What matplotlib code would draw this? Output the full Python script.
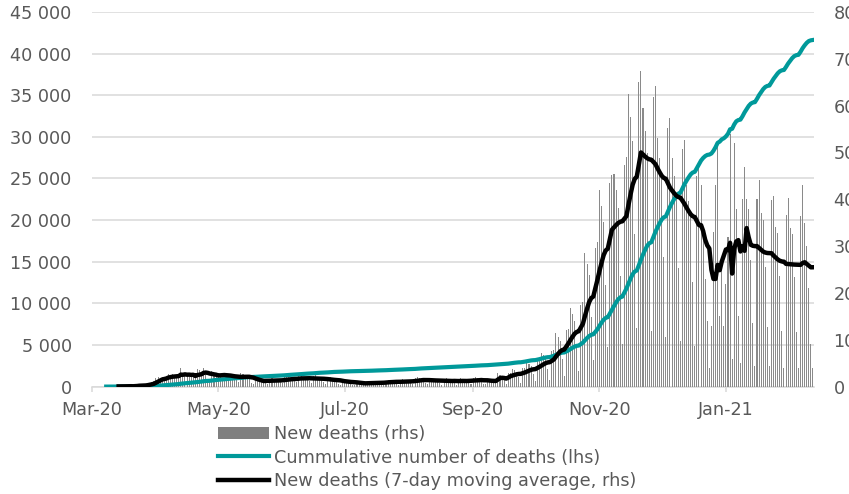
import numpy as np
import pandas as pd
import matplotlib
matplotlib.use("Agg")
import matplotlib.pyplot as plt
import matplotlib.dates as mdates
from matplotlib.patches import Patch
from matplotlib.lines import Line2D
from matplotlib.ticker import FuncFormatter, MultipleLocator

# daily new deaths (first value = 8 Mar 2020)
mar_20 = [0, 0, 0, 0, 1, 1, 1, 0, 1, 0, 1, 1, 2, 0, 2, 3, 4, 2, 3, 3, 4, 8, 10, 12]
apr_20 = [18, 20, 17, 21, 15, 18, 26, 24, 27, 20, 24, 18, 40, 24, 30, 22, 21, 20,
          20, 22, 38, 35, 30, 40, 25, 15, 12, 33, 28, 25]
may_20 = [30, 25, 18, 14, 30, 26, 22, 24, 20, 15, 10, 28, 27, 24, 23, 20, 8, 5, 15,
          16, 14, 14, 12, 9, 6, 16, 18, 15, 15, 12, 10]
jun_20 = [8, 20, 22, 20, 17, 15, 12, 9, 24, 25, 21, 19, 16, 11, 8, 22, 24, 21, 18,
          15, 9, 6, 19, 20, 17, 15, 12, 6, 4, 13]
jul_20 = [14, 13, 11, 9, 4, 3, 9, 10, 9, 8, 6, 5, 3, 10, 12, 11, 9, 6, 6, 4, 13, 15,
          13, 11, 8, 7, 4, 14, 16, 15, 12]
aug_20 = [9, 8, 5, 18, 21, 18, 16, 12, 8, 5, 17, 19, 17, 14, 11, 7, 4, 16, 18, 16,
          13, 10, 8, 3, 15, 19, 17, 12, 10, 9, 5]
sep_20 = [18, 21, 18, 15, 12, 6, 5, 17, 17, 15, 14, 10, 28, 25, 23, 14, 6, 29, 30,
          38, 35, 31, 20, 8, 39, 40, 52, 48, 44, 27]
oct_20 = [11, 55, 57, 72, 67, 61, 38, 15, 75, 78, 115, 106, 97, 60, 23, 120, 124,
          168, 154, 141, 87, 34, 174, 181, 285, 262, 239, 148, 57, 296, 308]
nov_20 = [419, 385, 352, 218, 84, 435, 452, 455, 419, 382, 237, 91, 473, 491, 625,
          575, 525, 325, 125, 650, 675, 594, 546, 499, 309, 119, 618, 641, 531, 489]
dec_20 = [446, 276, 106, 553, 574, 488, 449, 410, 254, 98, 507, 527, 431, 397, 362,
          224, 86, 449, 466, 430, 310, 230, 140, 40, 130, 330, 430, 520, 150, 270, 130]
jan_21 = [220, 320, 540, 60, 520, 380, 150, 50, 400, 470, 400, 380, 270, 135, 45,
          400, 442, 370, 356, 256, 128, 43, 399, 406, 341, 328, 236, 118, 39, 367, 403]
feb_21 = [338, 325, 234, 117, 39, 364, 430, 350, 300, 210, 90, 40]

new_deaths = np.array(mar_20 + apr_20 + may_20 + jun_20 + jul_20 + aug_20 + sep_20
                      + oct_20 + nov_20 + dec_20 + jan_21 + feb_21, dtype=float)
dates = pd.date_range("2020-03-08", periods=len(new_deaths), freq="D")
cumulative = np.cumsum(new_deaths)
moving_avg = pd.Series(new_deaths).rolling(7).mean().values

legend_labels = ["New deaths (rhs)",
                 "Cummulative number of deaths (lhs)",
                 "New deaths (7-day moving average, rhs)"]

TEXT = "#595959"
GRID = "#d9d9d9"
BAR = "#8a8a8a"
TEAL = "#00999a"
FS = 12.7

plt.rcParams["font.family"] = ["DejaVu Sans"]
plt.rcParams["font.size"] = FS

fig = plt.figure(figsize=(8.49, 4.94), dpi=100)
# lhs axis: grid and ticks
ax = fig.add_axes([91.7 / 849, 1 - 386.6 / 494, (814 - 91.7) / 849, (386.6 - 12) / 494])
# rhs axis: bars, lines
ax2 = ax.twinx()

ax2.bar(dates, new_deaths, width=0.5, color=BAR, zorder=1)
ax2.plot(dates, cumulative, color=TEAL, lw=3.0, transform=ax.transData, zorder=2)
ax2.plot(dates, moving_avg, color="black", lw=3.2, zorder=3)

ax.set_ylim(0, 45000)
ax2.set_ylim(0, 800)
ax.set_xlim(pd.Timestamp("2020-03-01"), pd.Timestamp("2021-02-12 12:00"))

ax.yaxis.set_major_locator(MultipleLocator(5000))
ax.yaxis.set_major_formatter(FuncFormatter(lambda v, p: f"{int(v):,}".replace(",", " ")))
ax2.yaxis.set_major_locator(MultipleLocator(100))
ax.yaxis.grid(True, color=GRID, lw=1.1)
ax.set_axisbelow(True)

ax.xaxis.set_major_locator(mdates.MonthLocator(bymonth=[1, 3, 5, 7, 9, 11]))
ax.xaxis.set_major_formatter(mdates.DateFormatter("%b-%y"))

ax.tick_params(axis="y", length=0, pad=14.4, labelcolor=TEXT, labelsize=FS)
ax2.tick_params(axis="y", length=0, pad=14, labelcolor=TEXT, labelsize=FS)
ax.tick_params(axis="x", length=3.6, width=1.1, color=GRID, pad=7,
               labelcolor=TEXT, labelsize=FS)

for s in ["top", "right", "left"]:
    ax.spines[s].set_visible(False)
ax.spines["bottom"].set_color(GRID)
ax.spines["bottom"].set_linewidth(1.1)
for s in ax2.spines.values():
    s.set_visible(False)

handles = [Patch(facecolor="#7f7f7f", edgecolor="none"),
           Line2D([], [], color=TEAL, lw=3.0),
           Line2D([], [], color="black", lw=3.2)]
fig.legend(handles, legend_labels, loc="upper left",
           bbox_to_anchor=(218 / 849, 1 - 425 / 494), frameon=False,
           handlelength=2.9, handletextpad=0.3, labelspacing=0.32,
           borderpad=0, borderaxespad=0, labelcolor=TEXT, fontsize=FS)

fig.savefig("out.png", dpi=100)
